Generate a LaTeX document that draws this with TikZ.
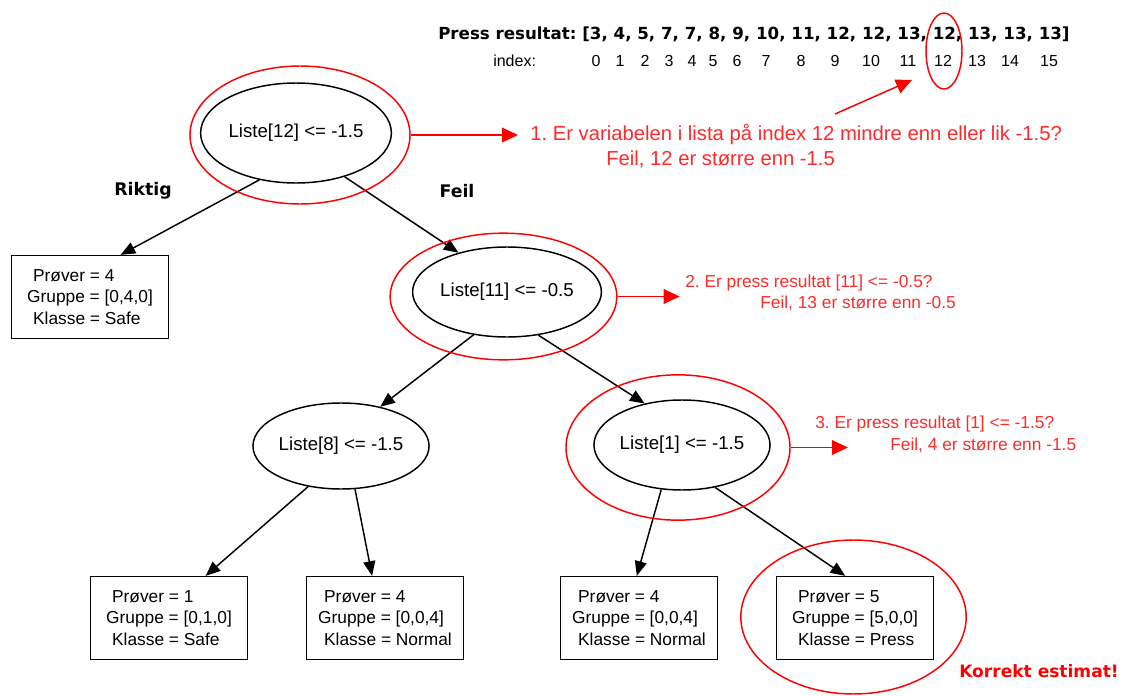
\documentclass[tikz,border=0pt]{standalone}
\usepackage{fontspec}
\setmainfont{Liberation Sans}
\newfontfamily\heavyfont{DejaVu Sans}
\usetikzlibrary{shapes.geometric, arrows.meta, positioning}
\definecolor{ringred}{HTML}{FF0000}
\definecolor{notered}{HTML}{FF2A2A}
\frenchspacing
\tikzset{
  splitnode/.style={draw, ellipse, line width=1.1pt, inner sep=0pt,
    minimum width=127.5pt, minimum height=67.5pt, font=\fontsize{14}{17}\selectfont},
  leafbox/.style={draw, rectangle, line width=1.2pt, inner sep=0pt,
    minimum width=118pt, minimum height=62pt, align=left, font=\fontsize{13}{16}\selectfont},
  ring/.style={draw=ringred, ellipse, line width=1.1pt, inner sep=0pt},
  edge/.style={line width=1.1pt, -{Triangle[length=11pt,width=9pt]}},
  redarrow/.style={draw=ringred, line width=1.1pt, -{Triangle[length=12pt,width=11pt]}},
  note/.style={text=notered, anchor=west, inner sep=0pt},
  branch/.style={font=\fontsize{13}{16}\selectfont\heavyfont\bfseries, inner sep=0pt}
}
\newcommand{\leafinfo}[3]{\hspace*{4.5pt}Prøver = #1\\Gruppe = [#2]\\\hspace*{4.5pt}Klasse = #3}

\begin{document}
\begin{tikzpicture}[x=0.75pt, y=-0.75pt]
  \useasboundingbox (0,0) rectangle (1122,696);

  % the list and its indices
  \node[anchor=west, inner sep=0pt, font=\fontsize{12.5}{15}\selectfont\heavyfont\bfseries] (press) at (438,34)
    {Press resultat: [3, 4, 5, 7, 7, 8, 9, 10, 11, 12, 12, 13, 12, 13, 13, 13]};
  \node[anchor=west, inner sep=0pt, font=\fontsize{12}{14}\selectfont] (idx) at (493,61) {index:};
  \foreach \i/\x in {0/596, 1/620, 2/645, 3/669, 4/692, 5/713, 6/737, 7/766,
                     8/801, 9/835, 10/871, 11/908, 12/943, 13/977, 14/1010, 15/1049}
    \node[inner sep=0pt, font=\fontsize{12}{14}\selectfont] (idx\i) at (\x,61) {\i};
  \node[ring, minimum width=27pt, minimum height=57pt] (ring5) at (944,51) {};
  \coordinate (ptrfoot) at (835,114);
  \coordinate (ptrtip) at (912,80);
  \draw[redarrow] (ptrfoot) -- (ptrtip);

  % tree
  \node[splitnode, minimum height=75pt] (root) at (296,133) {Liste[12] <= -1.5};
  \node[splitnode] (n11) at (507,292) {Liste[11] <= -0.5};
  \node[splitnode, minimum width=126pt, minimum height=64.5pt] (n8) at (341,446) {Liste[8] <= -1.5};
  \node[splitnode] (n1) at (682,445) {Liste[1] <= -1.5};

  \node[leafbox] (leafsafe) at (90,297) {\leafinfo{4}{0,4,0}{Safe}};
  \node[leafbox] (leafa) at (169,618) {\leafinfo{1}{0,1,0}{Safe}};
  \node[leafbox] (leafb) at (385,618) {\leafinfo{4}{0,0,4}{Normal}};
  \node[leafbox] (leafc) at (639,618) {\leafinfo{4}{0,0,4}{Normal}};
  \node[leafbox] (leafd) at (855,618) {\leafinfo{5}{5,0,0}{Press}};

  \node[branch] (riktig) at (143,191) {Riktig};
  \node[branch] (feil) at (457,191) {Feil};

  \draw[edge] (root.232) -- (leafsafe.54);
  \draw[edge] (root.318) -- (n11.141);
  \draw[edge] (n11.232) -- (n8.45);
  \draw[edge] (n11.306) -- (n1.132);
  \draw[edge] (n8.231) -- (leafa.49);
  \draw[edge] (n8.288) -- (leafb.107);
  \draw[edge] (n1.245) -- (leafc.93);
  \draw[edge] (n1.308) -- (leafd.103);

  % the path taken
  \node[ring, minimum width=165pt, minimum height=103.5pt] (ring1) at (300,135) {};
  \node[ring, minimum width=170pt, minimum height=95pt] (ring2) at (503.5,296.5) {};
  \node[ring, minimum width=168pt, minimum height=109pt] (ring3) at (678,447.5) {};
  \node[ring, minimum width=169pt, minimum height=115.5pt] (ring4) at (853.5,617) {};

  \node[note, font=\fontsize{15.2}{18}\selectfont] (q1) at (530,134)
    {1. Er variabelen i lista på index 12 mindre enn eller lik -1.5?};
  \node[note, font=\fontsize{15.2}{18}\selectfont] (f1) at (606,159) {Feil, 12 er større enn -1.5};
  \node[note, font=\fontsize{13}{15}\selectfont] (q2) at (685,283) {2. Er press resultat [11] <= -0.5?};
  \node[note, font=\fontsize{13}{15}\selectfont] (f2) at (760,303) {Feil, 13 er større enn -0.5};
  \node[note, font=\fontsize{13}{15}\selectfont] (q3) at (815,424) {3. Er press resultat [1] <= -1.5?};
  \node[note, font=\fontsize{13}{15}\selectfont] (f3) at (890,445) {Feil, 4 er større enn -1.5};

  \draw[redarrow, shorten >=9pt] (ring1.east) -- (ring1.east -| q1.west);
  \draw[redarrow, shorten >=4pt] (ring2.east) -- (ring2.east -| q2.west);
  \draw[redarrow, shorten >=31.5pt] (ring3.east) -- (ring3.east -| f3.west);

  \node[text=ringred, inner sep=0pt, font=\fontsize{12.8}{15}\selectfont\heavyfont\bfseries] (korrekt) at (1039,671) {Korrekt estimat!};
\end{tikzpicture}
\end{document}
